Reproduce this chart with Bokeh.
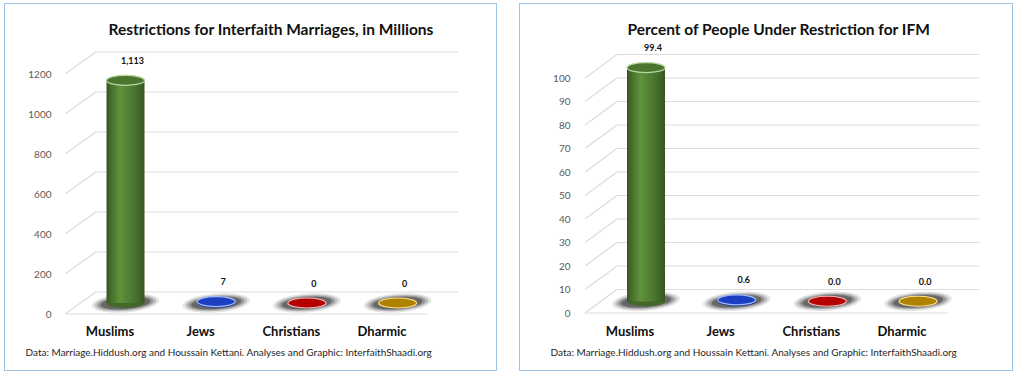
import math
from bokeh.plotting import figure
from bokeh.models import ColumnDataSource, FixedTicker, LinearAxis, Range1d, Title
from bokeh.layouts import row
from bokeh.embed import file_html
from bokeh.resources import INLINE
from bokeh.core.properties import value

# ---------------- data ----------------
categories = ["Muslims", "Jews", "Christians", "Dharmic"]
millions = [1113, 7, 0, 0]
percent = [99.4, 0.6, 0.0, 0.0]
millions_ticks = [0, 200, 400, 600, 800, 1000, 1200]
percent_ticks = [0, 10, 20, 30, 40, 50, 60, 70, 80, 90, 100]
millions_labels = [f"{v:,.0f}" for v in millions]
percent_labels = [f"{v:.1f}" for v in percent]
title_left = "Restrictions for Interfaith Marriages, in Millions"
title_right = "Percent of People Under Restriction for IFM"
footer = "Data: Marriage.Hiddush.org and Houssain Kettani. Analyses and Graphic: InterfaithShaadi.org"

bar_colors = ["#548235", "#1f45d6", "#c80000", "#c09000"]
rim_colors = ["#b8d8a0", "#a3bdf7", "#f6b8b8", "#ffe08a"]

FONT = "Lato"
BORDER = 1.5
GRID = "#dcdcdc"
TOP = 3


def shade(hex_color, f):
    r, g, b = (int(hex_color[i:i + 2], 16) for i in (1, 3, 5))
    c = [max(0, min(255, int(round(v * f)))) for v in (r, g, b)]
    return "#%02x%02x%02x" % tuple(c)


def make_panel(title, vals, labels, ticks, page_left, outer_w, outer_h,
               axis_px, cat0_px, cat_px, zero_py, ppu, frame_r_page,
               frame_t_page, frame_b_page, dx, dy, title_offset, foot_offset):
    ox = page_left + BORDER
    oy = TOP + BORDER
    W = int(round(outer_w - 2 * BORDER))
    H = int(round(outer_h - 2 * BORDER))
    mb_l = int(round(axis_px - ox)); fl = ox + mb_l
    mb_r = int(round(ox + W - frame_r_page)); fr = ox + W - mb_r
    mb_t = int(round(frame_t_page - oy)); ft = oy + mb_t
    mb_b = int(round(oy + H - frame_b_page)); fb = oy + H - mb_b
    x0 = -(cat0_px - fl) / cat_px
    x1 = x0 + (fr - fl) / cat_px
    y1 = (zero_py - ft) / ppu
    y0 = (zero_py - fb) / ppu
    ax = -(cat0_px - axis_px) / cat_px
    ddx = dx / cat_px
    ddy = dy / ppu
    floor_end = len(vals) - 0.5

    p = figure(width=W, height=H, x_range=Range1d(x0, x1), y_range=Range1d(y0, y1),
               x_axis_type=None, y_axis_type=None, toolbar_location=None,
               output_backend="svg", min_border_left=mb_l, min_border_right=mb_r,
               min_border_top=mb_t, min_border_bottom=mb_b)
    p.outline_line_color = None
    p.background_fill_color = "white"
    p.border_fill_color = "white"
    p.styles = {"border": f"{BORDER}px solid #9dc3e6"}

    p.title.text = title
    p.title.align = "left"
    p.title.offset = title_offset
    p.title.standoff = 2
    p.title.text_font = FONT
    p.title.text_font_size = "15.5px"
    p.title.text_font_style = "bold"
    p.title.text_color = "#111111"

    # perspective grid: back wall lines, diagonals, front floor edge
    gs = ColumnDataSource(dict(
        bx0=[ax + ddx for t in ticks], by=[t + ddy for t in ticks],
        bx1=[floor_end + ddx for t in ticks],
        dx0=[ax for t in ticks], dy0=[t for t in ticks]))
    p.segment(x0="bx0", y0="by", x1="bx1", y1="by", source=gs, line_color=GRID, line_width=1.2)
    p.segment(x0="dx0", y0="dy0", x1="bx0", y1="by", source=gs, line_color=GRID, line_width=1.2)
    p.segment(x0=[ax], y0=[ticks[0]], x1=[floor_end], y1=[ticks[0]], line_color=GRID, line_width=1.2)

    n = len(vals)
    bx = [i + ddx / 2 for i in range(n)]
    base = [ddy / 2] * n
    top = [ddy / 2 + v for v in vals]
    w = 38.0 / cat_px

    # shadows
    for (sw, sh, a) in [(68, 19, 0.10), (62, 16, 0.16), (56, 14, 0.22), (50, 12, 0.30)]:
        p.ellipse(x=bx, y=base, width=sw, height=sh, width_units="screen",
                  height_units="screen", angle=0.08, fill_color="#000000",
                  fill_alpha=a, line_color=None)
    # bottom cap
    p.ellipse(x=bx, y=base, width=38, height=10, width_units="screen", height_units="screen",
              fill_color=[shade(c, 0.8) for c in bar_colors], line_color=None)
    # cylinder body: nested bands around a highlight for a smooth gradient
    M = 16
    hc = 0.36
    for j in range(M):
        s = 1 - j / M
        f = 0.66 + 0.46 * (j / (M - 1)) ** 0.8
        cols = [shade(c, f) for c in bar_colors]
        src = ColumnDataSource(dict(
            left=[b - w / 2 + (hc - s * hc) * w for b in bx],
            right=[b - w / 2 + (hc + s * (1 - hc)) * w for b in bx],
            bottom=base, top=top, color=cols))
        p.quad(left="left", right="right", bottom="bottom", top="top", source=src,
               fill_color="color", line_color=None)
    # top cap
    p.ellipse(x=bx, y=top, width=38, height=10, width_units="screen", height_units="screen",
              fill_color=[shade(c, 0.9) for c in bar_colors], line_color=rim_colors,
              line_width=1.2)
    # value labels
    p.text(x=bx, y=top, text=labels, x_offset=7, y_offset=-20, text_align="center",
           text_baseline="middle", text_font=value(FONT), text_font_style="bold",
           text_font_size="9px", text_color="#111111")

    yaxis = LinearAxis(ticker=FixedTicker(ticks=ticks))
    yaxis.axis_line_color = None
    yaxis.major_tick_line_color = None
    yaxis.minor_tick_line_color = None
    yaxis.major_label_standoff = 8
    yaxis.major_label_text_font = FONT
    yaxis.major_label_text_font_size = "10px"
    yaxis.major_label_text_color = "#595959"
    p.add_layout(yaxis, "left")

    xaxis = LinearAxis(ticker=FixedTicker(ticks=list(range(n))),
                       major_label_overrides={i: c for i, c in enumerate(categories)})
    xaxis.axis_line_color = None
    xaxis.major_tick_line_color = None
    xaxis.minor_tick_line_color = None
    xaxis.major_label_standoff = 0
    xaxis.major_label_text_font = FONT
    xaxis.major_label_text_font_size = "13px"
    xaxis.major_label_text_font_style = "bold"
    xaxis.major_label_text_color = "#111111"
    p.add_layout(xaxis, "below")

    p.add_layout(Title(text=footer, align="left", offset=foot_offset, standoff=5,
                       text_font=FONT, text_font_size="10px", text_font_style="normal",
                       text_color="#262626"), "below")
    return p


p1 = make_panel(title_left, millions, millions_labels, millions_ticks,
                page_left=4, outer_w=496, outer_h=371, axis_px=65, cat0_px=110,
                cat_px=90.7, zero_py=314, ppu=0.2, frame_r_page=470,
                frame_t_page=38, frame_b_page=316, dx=31, dy=22,
                title_offset=43, foot_offset=-40)
p2 = make_panel(title_right, percent, percent_labels, percent_ticks,
                page_left=522, outer_w=497, outer_h=371, axis_px=588, cat0_px=633,
                cat_px=90.7, zero_py=313, ppu=2.35, frame_r_page=994,
                frame_t_page=38, frame_b_page=316, dx=32, dy=23.5,
                title_offset=43, foot_offset=-34)

layout = row(p1, p2, spacing=22, margin=(TOP, 0, 0, 4))
open("out.html", "w").write(file_html(layout, INLINE))
